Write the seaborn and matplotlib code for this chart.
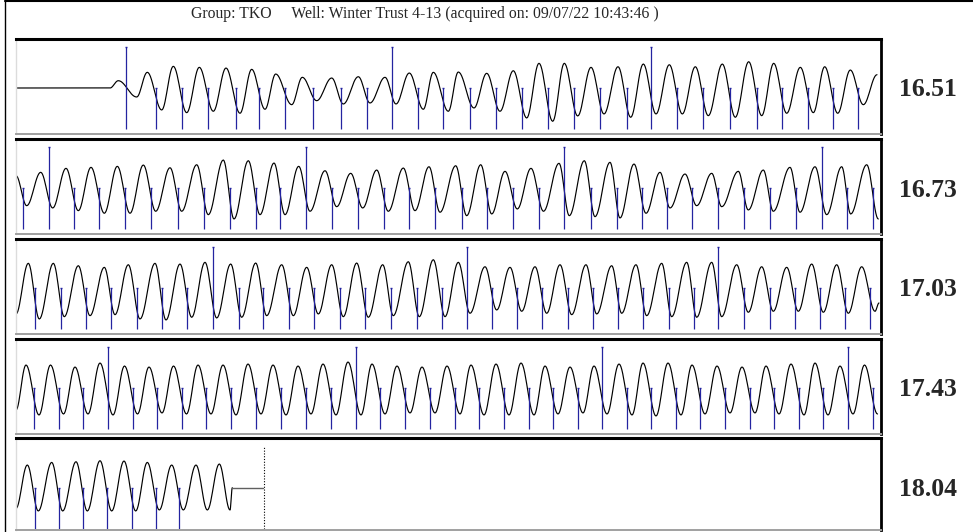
import numpy as np
import matplotlib
matplotlib.use('Agg')
import matplotlib.pyplot as plt
import seaborn as sns
from matplotlib.lines import Line2D

title = "Group: TKO     Well: Winter Trust 4-13 (acquired on: 09/07/22 10:43:46 )"
row_labels = ['16.51', '16.73', '17.03', '17.43', '18.04']

# joint markers (trace position), short and every-10th tall ones
short_1 = [155.7, 181.7, 207.7, 235.7, 259.3, 285.3, 313, 340.7, 366.7, 418, 442.7, 470.3, 496, 521.7,
           547.7, 573.7, 599.7, 627, 677.3, 703.3, 730.3, 756.7, 781.7, 808.3, 832.7, 858.3]
tall_1 = [126.3, 392.3, 651]
short_2 = [22.7, 74.3, 98.7, 125, 150.7, 178.3, 204, 230, 256, 280, 331.7, 358.3, 384, 409.3, 435, 461.7,
           487, 512.7, 539, 590.7, 616.7, 641.7, 666.7, 692.3, 718.3, 744.3, 770, 796, 846.7, 872.7]
tall_2 = [49.3, 305.7, 564.3, 821.7]
short_3 = [35, 60.7, 86, 111, 136.7, 162.3, 186.7, 238.7, 263.3, 288.7, 314, 340, 365, 390.7, 416.7, 441.7,
           491.7, 516.7, 542.3, 568.3, 593.3, 618.3, 643.3, 669, 694.3, 744.3, 770, 795, 820, 845, 870]
tall_3 = [212.7, 466.7, 718.3]
short_4 = [34, 58.5, 83, 132.5, 157, 181.5, 206, 231, 256, 281, 306, 331, 380, 405, 430, 455, 479, 504, 529,
           553, 578, 627, 651, 676, 700, 725, 750, 774, 799, 823, 872.5]
tall_4 = [108, 356, 602, 848]
short_5 = [35, 59.3, 83.3, 107.3, 131.7, 156, 178.7]
tall_5 = []

# waveform turning points (position, amplitude)
wave_x_1 = [16, 110, 118.3, 136.7, 147.3, 161.7, 173.3, 186.7, 199.3, 213.3, 226, 240, 251.7, 265, 275.7,
            291.7, 302.3, 316.7, 331.7, 343.3, 358.3, 370, 385, 396, 409.3, 423.3, 433.3, 448.3, 458.3, 474,
            486.7, 500, 513.3, 526.7, 539, 552.7, 564.3, 577.7, 591, 604, 618, 630.7, 643.3, 656, 669.3,
            682.3, 695.3, 708.3, 722.3, 735.3, 748.7, 761.7, 773.7, 786.7, 800.3, 813.3, 824.7, 837.7,
            850.3, 863.3, 877]
wave_y_1 = [0, 0, 7.3, -9, 15.7, -22, 21.7, -24.7, 20.7, -23.3, 20, -25.3, 18.7, -21.3, 14, -16.7, 10.7,
            -12.7, 10, -16, 11.3, -15, 10.7, -16, 15, -21.3, 15.7, -23.3, 16, -20, 14.7, -23.3, 17.3, -30,
            24.7, -33.3, 24.7, -28, 20.7, -26, 21.3, -29.3, 24, -26, 23.3, -26, 21.3, -27.7, 24, -29.3,
            26.3, -27.7, 24.7, -25.3, 20.7, -24.7, 21.3, -25.3, 18, -16.7, 13.3]
wave_x_2 = [16, 26.7, 40.7, 52.7, 66, 78.3, 91, 104.3, 117.3, 130, 143.3, 155.7, 170, 181.7, 196.7, 208.3,
            223.3, 234, 248.3, 260, 274, 285, 298.7, 310, 325, 336.7, 350.7, 362.7, 376.7, 388.3, 403.3,
            415, 429, 440, 455.7, 466.7, 480.7, 491.7, 505, 517.3, 531, 543.5, 559, 569.3, 584.3, 595, 610,
            620, 634, 646, 660, 670, 685, 696.7, 711.7, 721.7, 738.3, 748.3, 763.3, 773.3, 790, 800, 815,
            826.7, 841.7, 850.7, 866.7, 878.3]
wave_y_2 = [12.3, -17.7, 15.7, -20, 19.7, -22.7, 20.7, -25.3, 21.7, -25.3, 23, -23.3, 20.3, -23.3, 23.3,
            -26.7, 28, -31, 27.3, -26.7, 25, -26.7, 21.7, -23.3, 17.3, -18.7, 14.7, -20, 18, -23.3, 20,
            -22.7, 21.3, -24.3, 22.3, -27.7, 23.3, -26, 16.7, -21, 19.7, -23.3, 24.7, -27.7, 27.3, -28.7,
            25.7, -30, 24, -25.3, 15.7, -20, 14, -17.7, 14.7, -18.7, 16.7, -22, 18, -23.3, 20.7, -24.3,
            21.3, -26.7, 21.3, -26, 23.3, -31]
wave_x_3 = [16, 28.3, 39.3, 53.3, 64.3, 78.3, 90, 104.3, 115, 128.3, 140, 155, 166, 180, 191.7, 205, 216.7,
            230.7, 241.7, 255.7, 266.7, 281.7, 293.3, 306.7, 318.3, 331.7, 343.3, 356.7, 368.3, 382.7,
            393.3, 408.3, 419.3, 433.3, 445, 458.3, 470, 485, 496.7, 510, 521.7, 535, 546.7, 560, 571.7,
            586, 596.7, 611.7, 621.7, 636, 646.7, 661.7, 671.7, 686.7, 696.7, 711.7, 721.7, 736.7, 748.3,
            761.7, 773.3, 786.7, 798.3, 811.7, 823.3, 836.7, 848.3, 861.7, 875, 879]
wave_y_3 = [-26, 24.7, -31, 24.7, -28.7, 22.3, -27.7, 20.7, -26.7, 23.3, -31, 24.7, -32, 24, -29.3, 25.7,
            -30, 24, -29.3, 25, -27.7, 23.3, -27.7, 20.7, -26, 23.3, -28.7, 25, -29.3, 23.3, -27.7, 26.3,
            -28.7, 28.3, -28.7, 25.7, -25.3, 21.3, -22, 20.7, -23.3, 21.3, -25.3, 23.3, -26.7, 23.3, -26,
            22.3, -25.3, 23.3, -27.7, 24.7, -28.7, 25.7, -29.3, 25.7, -28.7, 23.3, -24.3, 21.3, -23.3,
            20.7, -23.3, 24, -24.3, 23.3, -25.3, 21.3, -23.3, -15]
wave_x_4 = [16, 26, 39, 50.5, 63.5, 75, 88, 100, 113, 124.5, 137.5, 149, 162, 173.5, 186.5, 198, 211, 223,
            236, 248, 261, 273, 286, 298, 311, 323, 336, 348, 361, 372, 385, 397, 410, 422, 435, 447, 460,
            471, 484, 496, 509, 521, 534, 545, 558, 570, 583, 594, 607, 619, 632, 643, 656, 668, 681, 692,
            705, 717, 730, 742, 755, 766, 779, 791, 804, 815, 828, 840, 853, 864.5, 877.5]
wave_y_4 = [-22, 23, -27, 23, -26, 21, -26, 25, -27, 22, -26, 21, -25, 22, -26, 23, -26, 23, -27, 24, -26,
            23, -27, 22, -26, 24, -27, 26, -27, 24, -26, 22, -25, 21, -25, 22, -26, 23, -27, 24, -27, 25,
            -27, 22, -26, 21, -25, 22, -26, 24, -27, 25, -28, 25, -27, 23, -26, 22, -25, 21, -25, 22, -26,
            24, -27, 25, -27, 22, -26, 23, -26]
wave_x_5 = [16, 27.3, 38.3, 51.7, 62.7, 76, 87.3, 100, 111.7, 124, 135.7, 147.3, 159.3, 171.7, 183.3, 196,
            207.3, 219.3, 230, 232.3]
wave_y_5 = [-20.7, 22.7, -23.3, 25.3, -23.3, 26, -23.3, 27, -23.3, 26.7, -23.3, 25.3, -22.3, 22.7, -22.3,
            22.7, -22.3, 23.7, -22.3, 0]
tail_x_5 = [232.3, 263.3]
end_x_5 = 264.3

rows = [
    (wave_x_1, wave_y_1, short_1, tall_1),
    (wave_x_2, wave_y_2, short_2, tall_2),
    (wave_x_3, wave_y_3, short_3, tall_3),
    (wave_x_4, wave_y_4, short_4, tall_4),
    (wave_x_5, wave_y_5, short_5, tall_5),
]


def smooth(xs, ys, n=14):
    # half-cosine between successive turning points
    xx, yy = [], []
    for i in range(len(xs) - 1):
        t = np.linspace(0, 1, n, endpoint=False)
        w = (1 - np.cos(np.pi * t)) / 2
        xx.append(xs[i] + (xs[i + 1] - xs[i]) * t)
        yy.append(ys[i] + (ys[i + 1] - ys[i]) * w)
    xx.append([xs[-1]])
    yy.append([ys[-1]])
    return np.concatenate(xx), np.concatenate(yy)


sns.set_style('white')
W, H = 973, 532
fig = plt.figure(figsize=(W / 100, H / 100), dpi=100)

tops = [39, 139, 239, 339, 438]
bots = [134, 234, 334, 434, 530]
mids = [88, 188, 288, 388, 487.7]
blue = '#2424a0'

for k, (wx, wy, short, tall) in enumerate(rows):
    ax = fig.add_axes([16 / W, 1 - bots[k] / H, (881 - 16) / W, (bots[k] - tops[k]) / H])
    xx, yy = smooth(wx, wy)
    sns.lineplot(x=xx, y=yy, ax=ax, color='black', lw=0.85, sort=False, estimator=None)
    ax.vlines(short, -41, 0, color=blue, lw=0.9)
    ax.plot(short, [0] * len(short), ls='none', marker='_', ms=2, mew=1, color=blue)
    if tall:
        ax.vlines(tall, -41, 41, color=blue, lw=0.9)
        ax.plot(tall, [41] * len(tall), ls='none', marker='_', ms=2, mew=1, color=blue)
    if k == 4:
        ax.plot(tail_x_5, [0, 0], color='#606060', lw=1)
        ax.vlines(end_x_5, -41.5, 41, color='black', lw=0.8, ls=(0, (1, 1.5)))
    ax.set_xlim(16, 881)
    ax.set_ylim(-(bots[k] - mids[k]), mids[k] - tops[k])
    ax.set_xticks([])
    ax.set_yticks([])
    ax.set_xlabel('')
    ax.set_ylabel('')
    ax.spines['top'].set_color('black')
    ax.spines['top'].set_linewidth(2.2)
    ax.spines['right'].set_color('black')
    ax.spines['right'].set_linewidth(2)
    ax.spines['bottom'].set_color('#a0a0a0')
    ax.spines['bottom'].set_linewidth(1.4)
    ax.spines['left'].set_color('#dcdcdc')
    ax.spines['left'].set_linewidth(1)
    fig.text(928 / W, 1 - (mids[k] + 2) / H, row_labels[k], ha='center', va='center',
             fontsize=18.5, fontweight='bold', family='Liberation Serif')

fig.text(425 / W, 1 - 14 / H, title, ha='center', va='center', fontsize=11.3, family='Liberation Serif')
fig.add_artist(Line2D([5 / W, 5 / W], [0, 1], color='black', lw=1))
fig.add_artist(Line2D([5 / W, 1], [1 - 1 / H, 1 - 1 / H], color='black', lw=1.5))

fig.savefig('out.png', dpi=100)
